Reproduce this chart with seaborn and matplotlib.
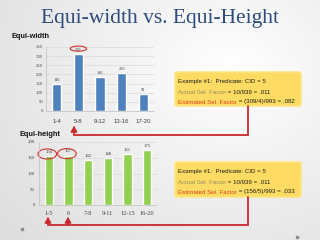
import numpy as np
import matplotlib
matplotlib.use("Agg")
import matplotlib.pyplot as plt
from matplotlib.patches import Ellipse, FancyBboxPatch
import seaborn as sns

# ---- data ----
width_cats = ["1-4", "5-8", "9-12", "13-16", "17-20"]
width_vals = [146, 309, 186, 206, 92]
height_cats = ["1-5", "6", "7-8", "9-11", "12-15", "16-20"]
height_vals = [156, 157, 142, 148, 161, 175]
width_yticks = [0, 50, 100, 150, 200, 250, 300, 350]
height_yticks = [0, 50, 100, 150, 200]

sns.set_theme(style="white")
plt.rcParams["font.family"] = ["Liberation Sans", "DejaVu Sans"]

W, H = 320, 240
fig = plt.figure(figsize=(3.2, 2.4), dpi=100)

def rect(l, t, r, b):
    return [l / W, 1 - b / H, (r - l) / W, (b - t) / H]

# background gradient
bg = fig.add_axes([0, 0, 1, 1], zorder=0)
xx, yy = np.meshgrid(np.linspace(0, 1, 320), np.linspace(0, 1, 240))
d = np.sqrt(((xx - 0.72) * 1.0) ** 2 + ((yy - 0.3) * 0.9) ** 2)
g = np.clip(1.0 - 0.14 * d, 0.87, 1.0)
bg.imshow(np.dstack([g, g, g]), extent=[0, W, H, 0], aspect="auto")
bg.set_xlim(0, W); bg.set_ylim(H, 0); bg.axis("off")

# ---- top chart ----
ax1 = fig.add_axes(rect(46, 47, 154, 111), zorder=2)
ax1.set_facecolor("none")
sns.barplot(x=width_cats, y=width_vals, color="#4F81BD", width=0.42,
            saturation=1, ax=ax1)
ax1.set_ylim(0, 350)
ax1.set_yticks(width_yticks)
ax1.yaxis.grid(True, color="#D9D9D9", lw=0.5)
ax1.set_axisbelow(True)
ax1.tick_params(axis="y", labelsize=3.2, pad=2, length=0, colors="#595959")
ax1.tick_params(axis="x", labelsize=4.3, pad=6, length=0, colors="#404040")
for s in ["top", "right"]:
    ax1.spines[s].set_visible(False)
for s in ["left", "bottom"]:
    ax1.spines[s].set_color("#BFBFBF"); ax1.spines[s].set_linewidth(0.5)
ax1.bar_label(ax1.containers[0], fontsize=3.2, padding=1.5, color="#404040",
              family="Liberation Serif")
ax1.add_patch(Ellipse((1, width_vals[1] + 32), 0.75, 28, fill=False,
                      ec="#D0312D", lw=0.8, clip_on=False))

# ---- bottom chart ----
ax2 = fig.add_axes(rect(39, 142, 157, 205), zorder=2)
ax2.set_facecolor("none")
sns.barplot(x=height_cats, y=height_vals, color="#92D050", width=0.41,
            saturation=1, ax=ax2)
ax2.set_ylim(0, 200)
ax2.set_yticks(height_yticks)
ax2.yaxis.grid(True, color="#D9D9D9", lw=0.5)
ax2.set_axisbelow(True)
ax2.tick_params(axis="y", labelsize=3.5, pad=3, length=0, colors="#404040",
                labelfontfamily="Liberation Serif")
ax2.tick_params(axis="x", labelsize=4.5, pad=4, length=0, colors="#404040",
                labelfontfamily="Liberation Serif")
for s in ["top", "right"]:
    ax2.spines[s].set_visible(False)
for s in ["left", "bottom"]:
    ax2.spines[s].set_color("#BFBFBF"); ax2.spines[s].set_linewidth(0.5)
ax2.bar_label(ax2.containers[0], fontsize=3.4, padding=1.5, color="#404040",
              family="Liberation Serif")
for i in (0, 1):
    ax2.add_patch(Ellipse((i - 0.08, height_vals[i] + 6), 0.95, 32, fill=False,
                          ec="#D0312D", lw=0.8, clip_on=False))

# ---- overlay (pixel coordinates) ----
ov = fig.add_axes([0, 0, 1, 1], zorder=5)
ov.set_xlim(0, W); ov.set_ylim(H, 0); ov.axis("off")

ov.text(160, 19, "Equi-width vs. Equi-Height", ha="center", va="center",
        fontsize=15.5, color="#2E4C7E", family="Liberation Serif")
ov.text(12, 37, "Equi-width", ha="left", va="center", fontsize=5.3,
        weight="bold", color="#111111")
ov.text(19, 135, "Equi-height", ha="left", va="center", fontsize=5.3,
        weight="bold", color="#111111")

red = "#C8282E"
renderer = fig.canvas.get_renderer()

def textbox(top, bottom, lines):
    ov.add_patch(FancyBboxPatch((175, top), 126, bottom - top,
                                boxstyle="round,pad=0,rounding_size=2",
                                fc="#FFDB5C", ec="#FFE680", lw=1.2, alpha=0.95))
    y = top + 10
    for parts in lines:
        x = 178
        for txt, col in parts:
            t = ov.text(x, y, txt, ha="left", va="center", fontsize=4.4, color=col)
            bb = t.get_window_extent(renderer=renderer)
            x += bb.width * W / fig.bbox.width
        y += 10

textbox(72, 106, [
    [("Example #1:  Predicate: CID = 5", "#1A1A1A")],
    [("Actual Sel. Factor", "#8E8E62"), (" = 10/939 = .011", "#1A1A1A")],
    [("Estimated Sel. Factor", "#D8401E"), (" = (309/4)/993 = .082", "#1A1A1A")],
])
textbox(162, 197, [
    [("Example #1:  Predicate: CID = 5", "#1A1A1A")],
    [("Actual Sel. Factor", "#8E8E62"), (" = 10/939 = .011", "#1A1A1A")],
    [("Estimated Sel. Factor", "#D8401E"), (" = (156/5)/993 = .033", "#1A1A1A")],
])

# connector arrows
ov.plot([248, 248, 74, 74], [106, 135, 135, 130], color=red, lw=1.3,
        solid_joinstyle="miter")
ov.annotate("", xy=(74, 126), xytext=(74, 131),
            arrowprops=dict(arrowstyle="-|>,head_width=0.15,head_length=0.25",
                            color=red, lw=1.3))
ov.plot([248, 248, 48, 48], [197, 225, 225, 221], color=red, lw=1.3,
        solid_joinstyle="miter")
ov.plot([68, 68], [225, 221], color=red, lw=1.3)
for x in (48, 68):
    ov.annotate("", xy=(x, 217), xytext=(x, 222),
                arrowprops=dict(arrowstyle="-|>,head_width=0.15,head_length=0.25",
                                color=red, lw=1.3))

ov.plot([22], [229], marker="s", ms=1.5, color="#8C8C8C")
ov.plot([297], [237], marker="s", ms=1.5, color="#8C8C8C")

fig.savefig("out.png", dpi=100)
